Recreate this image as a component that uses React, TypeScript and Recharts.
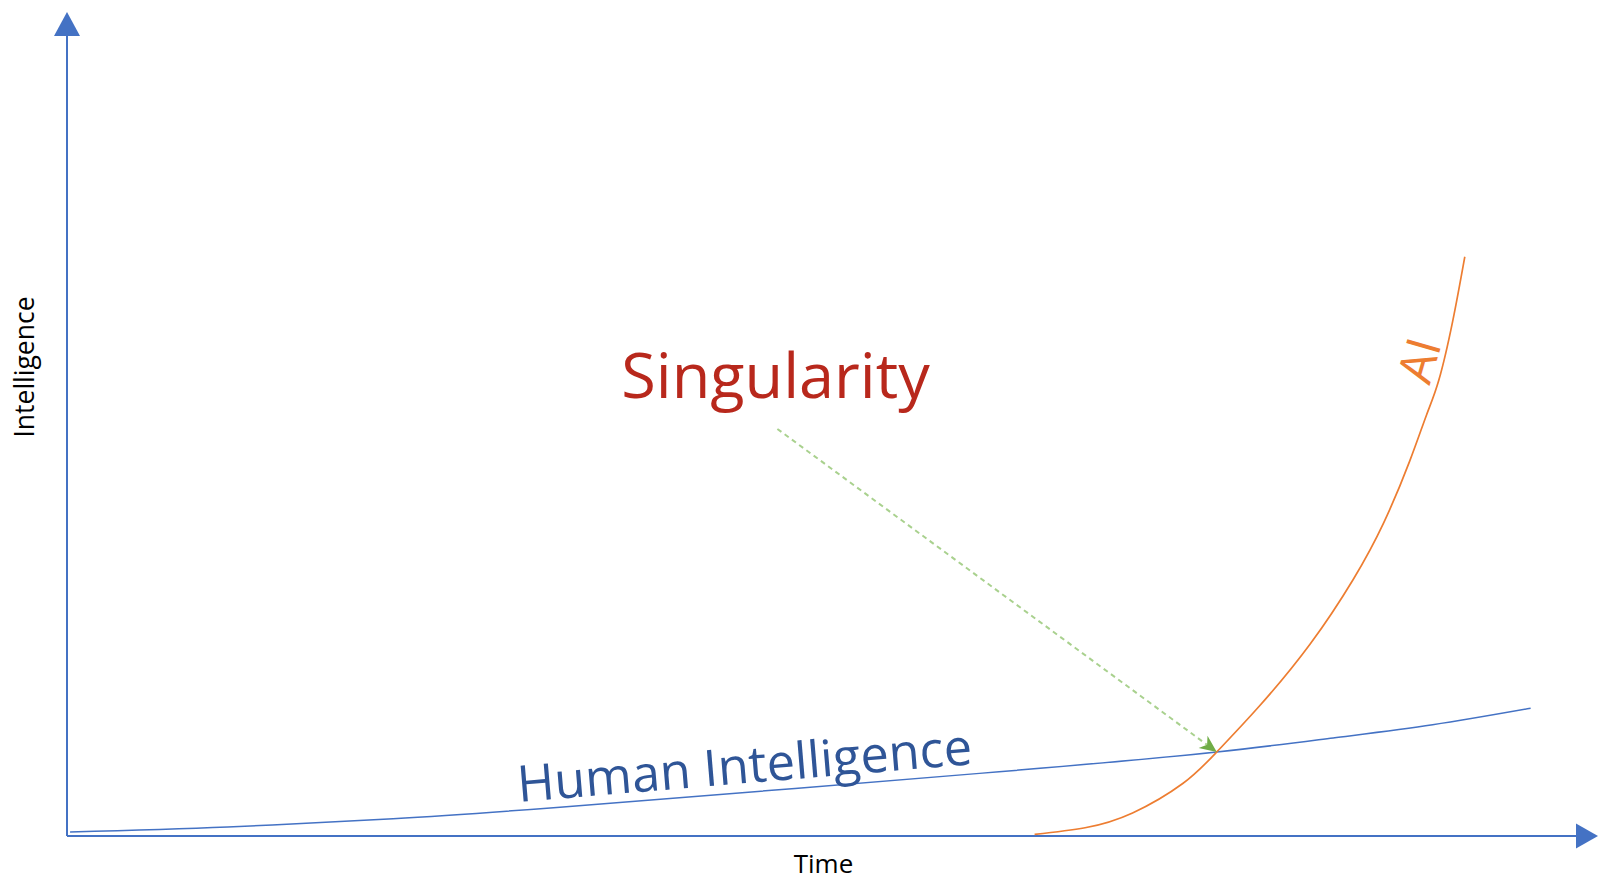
import React from 'react';
import { ComposedChart, Line, XAxis, YAxis, ReferenceLine, ReferenceDot, Label } from 'recharts';

// Human intelligence curve: time vs level
const humanTime = [0.2, 10.5, 21.3, 32.2, 59.6, 75.1, 82.7, 89.2, 95.6];
const humanLevel = [0.5, 1.1, 2.1, 3.5, 7.6, 10.2, 11.9, 13.5, 15.5];

// AI curve
const aiTime = [63.2, 66.5, 69.6, 72.9, 75.1, 77.9, 81.2, 84.0, 86.0, 87.7, 88.8, 89.6, 90.5, 91.3];
const aiLevel = [0.2, 1.0, 2.8, 6.4, 10.2, 15.8, 23.3, 31.1, 38.0, 45.5, 51.1, 55.3, 62.4, 70.3];

// Singularity pointer (start, end at the crossing)
const pointerFrom = { x: 46.4, y: 49.4 };
const pointerTo = { x: 75.1, y: 10.2 };

const humanData = humanTime.map((t, i) => ({ t, v: humanLevel[i] }));
const aiData = aiTime.map((t, i) => ({ t, v: aiLevel[i] }));

const FONT = '"Open Sans", "Noto Sans", sans-serif';
const AXIS_BLUE = '#4472C4';

const ArrowLine = (props: any) => {
  const { x1, y1, x2, y2, color, headColor, width, dash, headLen, headWidth, notch = 0 } = props;
  const dx = x2 - x1;
  const dy = y2 - y1;
  const len = Math.hypot(dx, dy) || 1;
  const ux = dx / len;
  const uy = dy / len;
  const bx = x2 - ux * headLen;
  const by = y2 - uy * headLen;
  const px = (-uy * headWidth) / 2;
  const py = (ux * headWidth) / 2;
  const nx = bx + ux * notch;
  const ny = by + uy * notch;
  return (
    <g>
      <line x1={x1} y1={y1} x2={nx} y2={ny} stroke={color} strokeWidth={width} strokeDasharray={dash} />
      <polygon
        points={`${x2},${y2} ${bx + px},${by + py} ${nx},${ny} ${bx - px},${by - py}`}
        fill={headColor || color}
      />
    </g>
  );
};

const textAt = (value: string, opts: { size: number; color: string; angle?: number; weight?: number }) => (p: any) => {
  const { cx, cy } = p;
  return (
    <text
      x={cx}
      y={cy}
      fill={opts.color}
      fontSize={opts.size}
      fontWeight={opts.weight || 400}
      fontFamily={FONT}
      transform={opts.angle ? `rotate(${opts.angle} ${cx} ${cy})` : undefined}
    >
      {value}
    </text>
  );
};

export default function App() {
  return (
    <div style={{ position: 'absolute', left: 0, top: 0, width: 1598, height: 882, background: '#fff' }}>
      <ComposedChart width={1598} height={882} margin={{ top: 12, right: 0, bottom: 0, left: 0 }}>
        <XAxis
          type="number"
          dataKey="t"
          domain={[0, 100]}
          height={46}
          tick={false}
          tickLine={false}
          axisLine={false}
        >
          <Label
            content={(p: any) => {
              const vb = p.viewBox || { x: 67, y: 836, width: 1531 };
              return (
                <text x={vb.x + vb.width / 2 - 9} y={vb.y + 37} textAnchor="middle" fontSize={26} fontFamily={FONT} fill="#000">
                  Time
                </text>
              );
            }}
          />
        </XAxis>
        <YAxis type="number" domain={[0, 100]} width={67} tick={false} tickLine={false} axisLine={false}>
          <Label
            content={(p: any) => {
              const vb = p.viewBox || { x: 0, y: 12 };
              const x = vb.x + 34;
              const y = vb.y + 355;
              return (
                <text x={x} y={y} textAnchor="middle" fontSize={26.5} fontFamily={FONT} fill="#000" transform={`rotate(-90 ${x} ${y})`}>
                  Intelligence
                </text>
              );
            }}
          />
        </YAxis>

        <ReferenceLine
          segment={[{ x: 0, y: 0 }, { x: 100, y: 0 }]}
          ifOverflow="visible"
          shape={(p: any) => <ArrowLine {...p} color={AXIS_BLUE} width={2} headLen={22} headWidth={25} />}
        />
        <ReferenceLine
          segment={[{ x: 0, y: 0 }, { x: 0, y: 100 }]}
          ifOverflow="visible"
          shape={(p: any) => <ArrowLine {...p} color={AXIS_BLUE} width={2} headLen={24} headWidth={26} />}
        />

        <Line
          data={humanData}
          dataKey="v"
          type="natural"
          stroke={AXIS_BLUE}
          strokeWidth={1.5}
          dot={false}
          activeDot={false}
          isAnimationActive={false}
        />
        <Line
          data={aiData}
          dataKey="v"
          type="natural"
          stroke="#ED7D31"
          strokeWidth={1.7}
          dot={false}
          activeDot={false}
          isAnimationActive={false}
        />

        <ReferenceLine
          segment={[pointerFrom, pointerTo]}
          ifOverflow="visible"
          shape={(p: any) => (
            <ArrowLine {...p} color="#A9D18E" headColor="#70AD47" width={2} dash="5 4" headLen={17} headWidth={15} notch={5} />
          )}
        />

        <ReferenceDot
          x={36.2}
          y={53.2}
          r={0}
          ifOverflow="visible"
          shape={textAt('Singularity', { size: 63, color: '#B8281C', weight: 500 })}
        />
        <ReferenceDot
          x={29.5}
          y={4.13}
          r={0}
          ifOverflow="visible"
          shape={textAt('Human Intelligence', { size: 50.5, color: '#2F5597', angle: -4.75, weight: 500 })}
        />
        <ReferenceDot
          x={89.0}
          y={54.6}
          r={0}
          ifOverflow="visible"
          shape={textAt('AI', { size: 48, color: '#ED7D31', angle: -74, weight: 500 })}
        />
      </ComposedChart>
    </div>
  );
}
